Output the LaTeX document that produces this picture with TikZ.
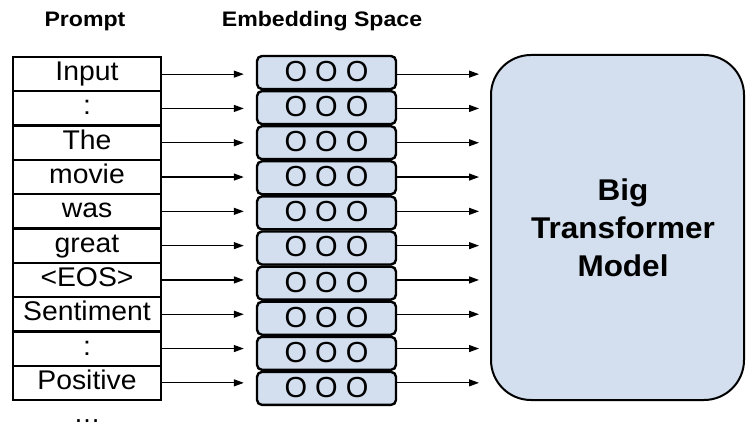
\documentclass[tikz,border=0pt]{standalone}
\usepackage{fontspec}
\setmainfont{Liberation Sans}
\newfontfamily\labelfont{Liberation Sans}[FakeStretch=1.05]
\newfontfamily\headfont{Liberation Sans}[FakeStretch=1.1]
\usetikzlibrary{arrows.meta,calc}
\definecolor{embblue}{RGB}{211,223,238}
\tikzset{
  promptbox/.style={draw=black,line width=2.4pt,minimum width=148pt,minimum height=34.3pt,inner sep=0pt,
    font=\labelfont\fontsize{27}{30}\selectfont,text height=19pt,text depth=6pt},
  embbox/.style={draw=black,fill=embblue,line width=2.4pt,rounded corners=5pt,minimum width=139pt,
    minimum height=33pt,inner sep=0pt,font=\fontsize{29}{30}\selectfont,text height=21pt,text depth=3pt},
  header/.style={font=\headfont\bfseries\fontsize{21}{24}\selectfont,anchor=base},
  arr/.style={line width=1.2pt,-{Triangle[length=10pt,width=7pt]}},
}
\begin{document}
\begin{tikzpicture}[x=1pt,y=-1pt]
\useasboundingbox (0,0) rectangle (746,427);
\node[header] (hp) at (85,27) {Prompt};
\node[header] (he) at (322,27) {Embedding Space};
\foreach \t [count=\i from 0] in {Input,:,The,movie,was,great,<EOS>,Sentiment,:,Positive}{
  \node[promptbox] (p\i) at (87,{57+34.3*(\i+0.5)}) {\t};
  \node[embbox] (e\i) at (326.5,{72.5+35.1*\i}) {O O O};
}
\node[draw=black,fill=embblue,line width=2pt,rounded corners=40pt,minimum width=253pt,minimum height=345pt,
  inner sep=0pt] (big) at (617.5,227.5) {};
\node[font=\labelfont\bfseries\fontsize{30}{38}\selectfont,align=center] (bt) at (623,228) {Big\\Transformer\\Model};
\foreach \i in {0,...,9}{
  \draw[arr,shorten >=12pt] (p\i.east) -- (p\i.east -| e\i.west);
  \draw[arr,shorten >=11pt] (e\i.east |- p\i.east) -- (p\i.east -| big.west);
}
\node[font=\fontsize{27}{30}\selectfont,anchor=base,inner sep=0pt] (dots) at (87,422.5) {…};
\end{tikzpicture}
\end{document}
